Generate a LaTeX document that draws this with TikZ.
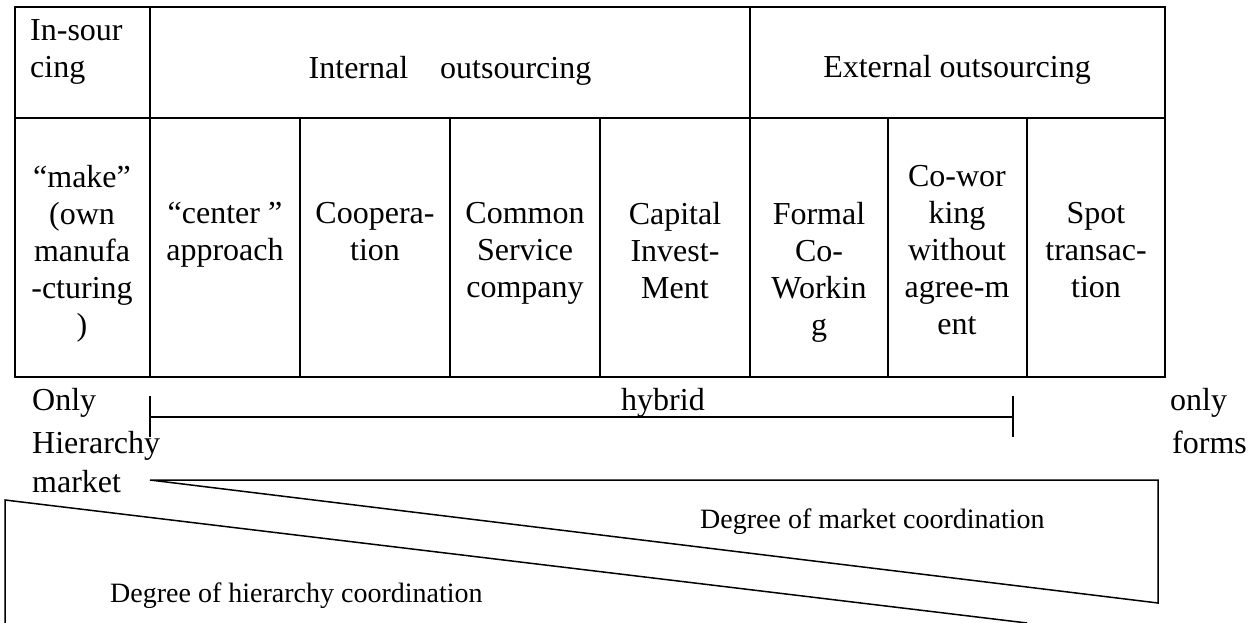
\documentclass[tikz,border=0pt]{standalone}
\usepackage{fontspec}
\setmainfont{Liberation Serif}
\usepackage{tikz}
\usetikzlibrary{positioning}

\tikzset{
  cell/.style={anchor=north, align=center, inner sep=0pt,
    font=\fontsize{32}{37}\selectfont, execute at begin node=\strut},
  side/.style={anchor=base west, inner sep=0pt, font=\fontsize{32}{37}\selectfont},
  degree/.style={anchor=base west, inner sep=0pt, font=\fontsize{28}{32}\selectfont}
}

\begin{document}
\begin{tikzpicture}[x=1pt,y=-1pt]
        \useasboundingbox (0,0) rectangle (1256,623);
        % table grid
        \draw[line width=2pt] (15,7) rectangle (1165,377);
        \draw[line width=2pt] (15,118) -- (1165,118);
        \foreach \x in {150,750}
            \draw[line width=2pt] (\x,7) -- (\x,377);
        \foreach \x in {300,450,600,888,1027}
            \draw[line width=2pt] (\x,118) -- (\x,377);

        % head row
        \node[cell,anchor=north west,align=left] (insrc) at (30,19) {In-sour\\cing};
        \node[cell] (intout) at (450,52) {Internal\hspace{1em}outsourcing};
        \node[cell] (extout) at (957,51) {External outsourcing};

        % body row
        \node[cell] (make) at (82,165) {“make”\\(own\\manufa\\-cturing\\)};
        \node[cell] (center) at (225,202) {“center ”\\approach};
        \node[cell] (coop) at (375,202) {Coopera-\\tion};
        \node[cell] (common) at (525,202) {Common\\Service\\company};
        \node[cell] (capital) at (675,202) {Capital\\Invest-\\Ment};
        \node[cell] (formal) at (819,202) {Formal\\Co-\\Workin\\g};
        \node[cell] (cowork) at (957,165) {Co-wor\\king\\without\\agree-m\\ent};
        \node[cell] (spot) at (1096,202) {Spot\\transac-\\tion};

        % hybrid bracket
        \coordinate (hl) at (150,417);
        \coordinate (hr) at (1013,417);
        \draw[line width=1.5pt] (hl) ++(0,-21) -- ++(0,41);
        \draw[line width=1.5pt] (hr) ++(0,-21) -- ++(0,41);
        \draw[line width=1.5pt] (hl) -- (hr);
        \node[side,anchor=base] (hybrid) at (663,410) {hybrid};

        \node[side] (only) at (32,410) {Only};
        \node[side] (hier) at (32,453) {Hierarchy};
        \node[side] (mkt) at (32,492) {market};
        \node[side] (onlyr) at (1170,410) {only};
        \node[side] (forms) at (1172,453) {forms};

        % coordination wedges
        \coordinate (mtip) at (150,480);
        \coordinate (htop) at (5,500);
        \draw[line width=1.5pt] (mtip) -- (1158,480) -- (1158,603) -- cycle;
        \draw[line width=1.5pt] (1027,623) -- (htop) -- (5,623);
        \node[degree] (mdeg) at (700,528) {Degree of market coordination};
        \node[degree] (hdeg) at (110,602) {Degree of hierarchy coordination};
\end{tikzpicture}
\end{document}
